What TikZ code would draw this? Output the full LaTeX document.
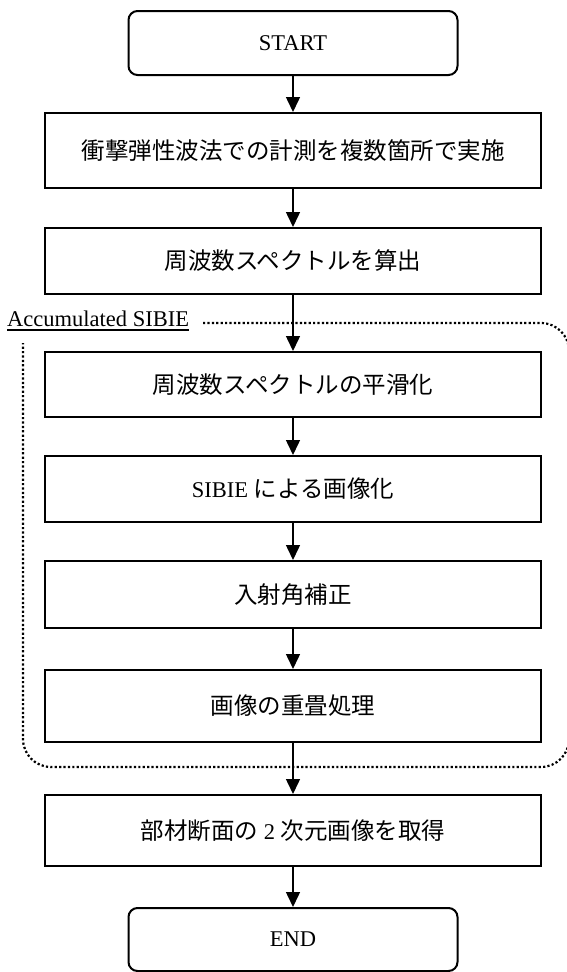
\documentclass[tikz,border=0pt]{standalone}
\usepackage{fontspec}
\setmainfont{Liberation Serif}
\newfontfamily\jpfont{Noto Sans CJK JP}
\usetikzlibrary{arrows.meta}
\newcommand\latsize{\fontsize{22.5pt}{27pt}\selectfont}
\newcommand\jptext[1]{{\jpfont\fontsize{23.5pt}{28pt}\selectfont #1}}
\tikzset{
  procbox/.style={draw, line width=2pt, minimum width=496pt, inner sep=0pt, font=\latsize},
  termbox/.style={draw, line width=2pt, rounded corners=9pt, minimum width=329pt, inner sep=0pt, font=\latsize},
  arr/.style={line width=1.5pt, -{Triangle[width=14pt,length=15pt]}},
  regionline/.style={line width=2.2pt, dash pattern=on 2.2pt off 2.2pt},
  lbl/.style={inner sep=0pt, font=\latsize, anchor=base west}
}
\begin{document}
\begin{tikzpicture}[x=1pt,y=-1pt]
\useasboundingbox (0,0) rectangle (566,972);
% region
\draw[regionline, rounded corners=28pt] (203,323) -- (569,323) -- (569,767) -- (23,767) -- (23,343);
\node[lbl] (acc) at (7,326) {Accumulated SIBIE};
\draw[line width=1.3pt] ([yshift=-4pt]acc.base west) -- ([yshift=-4pt]acc.base east);
% nodes
\node[termbox, minimum height=64pt] (start) at (293,43) {START};
\node[procbox, minimum height=75pt] (b1) at (293,150.5) {\jptext{衝撃弾性波法での計測を複数箇所で実施}};
\node[procbox, minimum height=66pt] (b2) at (293,261) {\jptext{周波数スペクトルを算出}};
\node[procbox, minimum height=65pt] (b3) at (293,384.5) {\jptext{周波数スペクトルの平滑化}};
\node[procbox, minimum height=66pt] (b4) at (293,489) {SIBIE \jptext{による画像化}};
\node[procbox, minimum height=67pt] (b5) at (293,594.5) {\jptext{入射角補正}};
\node[procbox, minimum height=72pt] (b6) at (293,706) {\jptext{画像の重畳処理}};
\node[procbox, minimum height=71pt] (b7) at (293,830.5) {\jptext{部材断面の}~2 \jptext{次元画像を取得}};
\node[termbox, minimum height=63pt] (end) at (293,939.5) {END};
% arrows
\draw[arr] (start.south) -- (b1.north);
\draw[arr] (b1.south) -- (b2.north);
\draw[arr] (b2.south) -- (b3.north);
\draw[arr] (b3.south) -- (b4.north);
\draw[arr] (b4.south) -- (b5.north);
\draw[arr] (b5.south) -- (b6.north);
\draw[arr] (b6.south) -- (b7.north);
\draw[arr] (b7.south) -- (end.north);
\end{tikzpicture}
\end{document}
